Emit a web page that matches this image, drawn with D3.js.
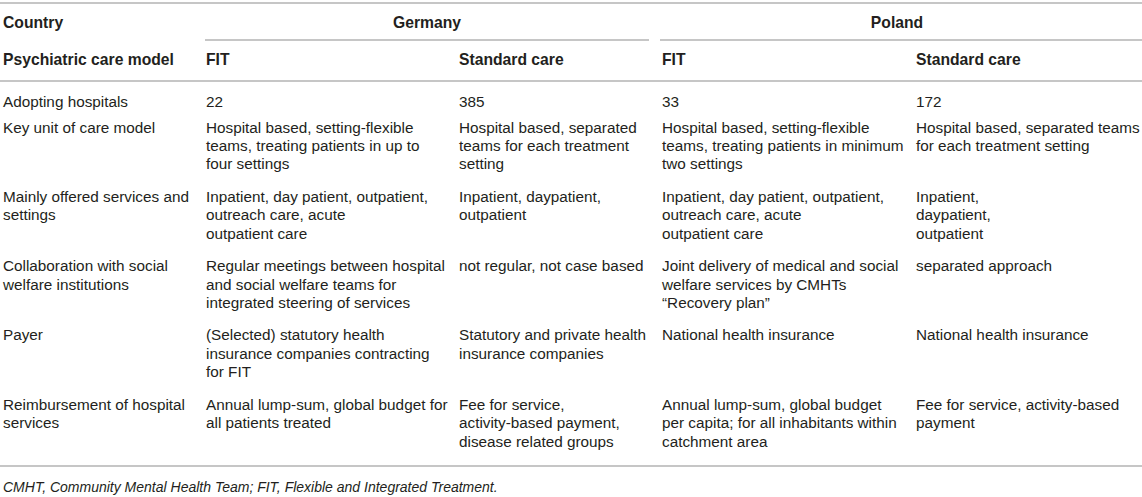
<!DOCTYPE html>
<html>
<head>
<meta charset="utf-8">
<script src="https://cdn.jsdelivr.net/npm/d3@7"></script>
<style>
  html, body { margin: 0; padding: 0; background: #fff; }
  svg text { font-family: "Liberation Sans", Arial, Helvetica, sans-serif; fill: #231f20; }
</style>
</head>
<body>
<svg id="chart" width="1142" height="497"></svg>
<script>
// ---------- data ----------
const countryHeader = "Country";
const countries = ["Germany", "Poland"];
const modelHeader = "Psychiatric care model";
const models = ["FIT", "Standard care", "FIT", "Standard care"];

const rowLabels = [
  ["Adopting hospitals"],
  ["Key unit of care model"],
  ["Mainly offered services and", "settings"],
  ["Collaboration with social", "welfare institutions"],
  ["Payer"],
  ["Reimbursement of hospital", "services"]
];

const germanyFIT = [
  ["22"],
  ["Hospital based, setting-flexible", "teams, treating patients in up to", "four settings"],
  ["Inpatient, day patient, outpatient,", "outreach care, acute", "outpatient care"],
  ["Regular meetings between hospital", "and social welfare teams for", "integrated steering of services"],
  ["(Selected) statutory health", "insurance companies contracting", "for FIT"],
  ["Annual lump-sum, global budget for", "all patients treated"]
];

const germanyStandard = [
  ["385"],
  ["Hospital based, separated", "teams for each treatment", "setting"],
  ["Inpatient, daypatient,", "outpatient"],
  ["not regular, not case based"],
  ["Statutory and private health", "insurance companies"],
  ["Fee for service,", "activity-based payment,", "disease related groups"]
];

const polandFIT = [
  ["33"],
  ["Hospital based, setting-flexible", "teams, treating patients in minimum", "two settings"],
  ["Inpatient, day patient, outpatient,", "outreach care, acute", "outpatient care"],
  ["Joint delivery of medical and social", "welfare services by CMHTs", "\u201CRecovery plan\u201D"],
  ["National health insurance"],
  ["Annual lump-sum, global budget", "per capita; for all inhabitants within", "catchment area"]
];

const polandStandard = [
  ["172"],
  ["Hospital based, separated teams", "for each treatment setting"],
  ["Inpatient,", "daypatient,", "outpatient"],
  ["separated approach"],
  ["National health insurance"],
  ["Fee for service, activity-based", "payment"]
];

const footnote = "CMHT, Community Mental Health Team; FIT, Flexible and Integrated Treatment.";

// ---------- layout ----------
const W = 1142, H = 497;
const svg = d3.select("#chart");
const fontSize = 15.3, boldSize = 15.7;
const lineColor = "#b3b3b3";

const columns = [rowLabels, germanyFIT, germanyStandard, polandFIT, polandStandard];
const colX = d3.scaleOrdinal().domain(d3.range(5)).range([3, 206, 459, 662, 916]);

// vertical layout: first row, then rows separated by gap; lines by lineH
const rowLines = rowLabels.map((_, i) => d3.max(columns, c => c[i].length));
const lineH = 18.4, rowGap = 32.5, firstBaseline = 106.5, firstGap = 26;
const rowStartBaselines = [firstBaseline];
for (let i = 1; i < rowLines.length; i++) {
  const prev = rowStartBaselines[i - 1];
  rowStartBaselines.push(prev + (rowLines[i - 1] - 1) * lineH + (i === 1 ? firstGap : rowGap));
}
const yRow = d3.scaleOrdinal().domain(d3.range(rowLines.length)).range(rowStartBaselines);

// horizontal rules
const rules = [
  { x1: 0, x2: W, y: 3 },
  { x1: 205, x2: 649, y: 40 },
  { x1: 660, x2: W, y: 40 },
  { x1: 0, x2: W, y: 81 },
  { x1: 0, x2: W, y: 466 }
];
svg.selectAll("line.rule").data(rules).join("line")
  .attr("class", "rule")
  .attr("x1", d => d.x1).attr("x2", d => d.x2)
  .attr("y1", d => d.y).attr("y2", d => d.y)
  .attr("stroke", lineColor).attr("stroke-width", 1.6);

// header row 1
svg.append("text").attr("x", colX(0)).attr("y", 27.5)
  .attr("font-size", boldSize).attr("font-weight", "bold").text(countryHeader);
const countryCenters = [427, 897];
svg.selectAll("text.country").data(countries).join("text")
  .attr("class", "country")
  .attr("x", (d, i) => countryCenters[i])
  .attr("y", 27.5)
  .attr("text-anchor", "middle")
  .attr("font-size", boldSize).attr("font-weight", "bold").text(d => d);

// header row 2
svg.append("text").attr("x", colX(0)).attr("y", 65)
  .attr("font-size", boldSize).attr("font-weight", "bold").text(modelHeader);
svg.selectAll("text.model").data(models).join("text")
  .attr("class", "model")
  .attr("x", (d, i) => colX(i + 1)).attr("y", 65)
  .attr("font-size", boldSize).attr("font-weight", "bold").text(d => d);

// body cells
const cells = [];
columns.forEach((col, ci) => col.forEach((lines, ri) => cells.push({ ci, ri, lines })));
const cellG = svg.selectAll("text.cell").data(cells).join("text")
  .attr("class", "cell")
  .attr("font-size", fontSize)
  .attr("x", d => colX(d.ci))
  .attr("y", d => yRow(d.ri));
cellG.selectAll("tspan").data(d => d.lines.map(l => ({ l, x: colX(d.ci), y: yRow(d.ri) })))
  .join("tspan")
  .attr("x", d => d.x)
  .attr("y", (d, i) => d.y + i * lineH)
  .text(d => d.l);

// footnote
svg.append("text").attr("x", 3).attr("y", 491.5)
  .attr("font-size", 14).attr("font-style", "italic").text(footnote);
</script>
</body>
</html>
